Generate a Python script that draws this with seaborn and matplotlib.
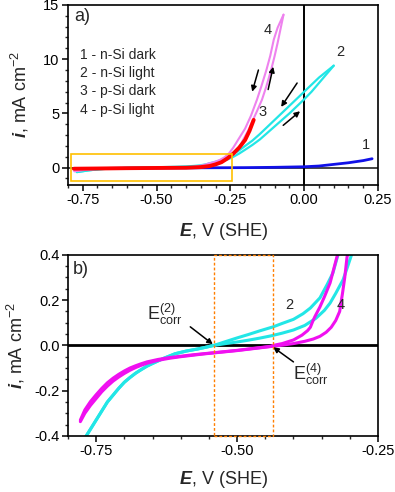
import matplotlib
matplotlib.use("Agg")
import matplotlib.pyplot as plt
import seaborn as sns
from matplotlib.patches import Rectangle
from matplotlib.ticker import MultipleLocator

# curve 1 - n-Si dark
E1 = [-0.78, -0.70, -0.60, -0.50, -0.40, -0.30, -0.20, -0.10, 0.00, 0.05, 0.10, 0.15, 0.20, 0.23]
i1 = [-0.12, -0.08, -0.05, -0.03, -0.02, -0.01, 0.0, 0.03, 0.08, 0.15, 0.30, 0.45, 0.65, 0.82]

# curve 2 - n-Si light: cathodic part (same for both scans), anodic forward / reverse
E2c = [-0.77, -0.76, -0.75, -0.74, -0.73, -0.72, -0.71, -0.70, -0.69, -0.68, -0.67, -0.66,
       -0.65, -0.63, -0.61, -0.59, -0.57, -0.555, -0.541]
i2c = [-0.41, -0.37, -0.33, -0.29, -0.25, -0.22, -0.19, -0.163, -0.142, -0.123, -0.107, -0.092,
       -0.08, -0.057, -0.037, -0.025, -0.016, -0.008, 0.0]
E2f = [-0.52, -0.50, -0.48, -0.46, -0.44, -0.42, -0.40, -0.38, -0.36, -0.345, -0.335, -0.325,
       -0.312, -0.305, -0.297, -0.28, -0.26, -0.24, -0.22, -0.20, -0.175, -0.15, -0.125, -0.10,
       -0.075, -0.05, -0.025, 0.0, 0.025, 0.05, 0.075, 0.10]
i2f = [0.008, 0.015, 0.023, 0.032, 0.042, 0.054, 0.068, 0.088, 0.12, 0.155, 0.187, 0.23, 0.29,
       0.34, 0.40, 0.55, 0.75, 1.0, 1.3, 1.65, 2.1, 2.6, 3.2, 3.8, 4.4, 5.0, 5.65, 6.3, 7.0,
       7.8, 8.6, 9.4]
E2r = [0.10, 0.075, 0.05, 0.025, 0.0, -0.025, -0.05, -0.075, -0.10, -0.125, -0.15, -0.175,
       -0.20, -0.225, -0.25, -0.27, -0.29, -0.31, -0.321, -0.33, -0.34, -0.353, -0.37, -0.383,
       -0.40, -0.42, -0.436, -0.46, -0.48, -0.50, -0.52, -0.541]
i2r = [9.4, 8.85, 8.3, 7.65, 7.0, 6.35, 5.7, 5.05, 4.4, 3.75, 3.1, 2.5, 2.0, 1.5, 1.1, 0.82,
       0.62, 0.47, 0.40, 0.32, 0.27, 0.21, 0.165, 0.14, 0.115, 0.097, 0.082, 0.064, 0.048,
       0.033, 0.017, 0.0]

# curve 3 - p-Si dark
E3 = [-0.78, -0.70, -0.60, -0.50, -0.40, -0.35, -0.32, -0.30, -0.28, -0.26, -0.24, -0.22,
      -0.20, -0.185, -0.171]
i3 = [-0.10, -0.08, -0.05, -0.03, -0.01, 0.05, 0.15, 0.30, 0.50, 0.85, 1.3, 1.85, 2.55, 3.4, 4.4]

# curve 4 - p-Si light: cathodic part (two close scans), anodic forward / reverse
E4c = [-0.778, -0.77, -0.76, -0.75, -0.74, -0.73, -0.72, -0.71, -0.70, -0.69, -0.68, -0.67,
       -0.66, -0.64, -0.62, -0.60, -0.58, -0.56, -0.54, -0.52, -0.50, -0.48, -0.46, -0.44]
i4c_f = [-0.337, -0.30, -0.265, -0.235, -0.205, -0.18, -0.158, -0.14, -0.124, -0.11, -0.098,
         -0.088, -0.079, -0.066, -0.057, -0.05, -0.044, -0.038, -0.033, -0.028, -0.023,
         -0.017, -0.011, -0.005]
i4c_r = [-0.33, -0.285, -0.248, -0.218, -0.19, -0.165, -0.145, -0.128, -0.113, -0.10, -0.09,
         -0.081, -0.073, -0.062, -0.054, -0.048, -0.042, -0.037, -0.032, -0.027, -0.022,
         -0.016, -0.01, -0.004]
E4f = [-0.43, -0.42, -0.40, -0.38, -0.365, -0.353, -0.342, -0.333, -0.325, -0.318, -0.313,
       -0.309, -0.305, -0.298, -0.29, -0.275, -0.26, -0.248, -0.235, -0.22, -0.206, -0.19,
       -0.175, -0.16, -0.143, -0.128, -0.112, -0.10, -0.09, -0.08, -0.07]
i4f = [-0.002, 0.001, 0.008, 0.018, 0.028, 0.04, 0.058, 0.08, 0.11, 0.15, 0.23, 0.30, 0.39,
       0.45, 0.52, 0.65, 0.82, 1.0, 1.3, 1.85, 2.6, 3.4, 4.3, 5.2, 6.26, 7.5, 9.0, 10.3, 11.5,
       12.8, 14.1]
E4r = [-0.07, -0.09, -0.103, -0.115, -0.128, -0.145, -0.16, -0.18, -0.20, -0.223, -0.24,
       -0.255, -0.27, -0.285, -0.30, -0.312, -0.323, -0.335, -0.345, -0.353, -0.362, -0.366,
       -0.37, -0.375, -0.385, -0.40, -0.42, -0.436]
i4r = [14.1, 12.9, 11.8, 10.3, 9.0, 7.5, 6.26, 4.8, 3.6, 2.6, 1.85, 1.3, 0.95, 0.72, 0.56,
       0.46, 0.39, 0.276, 0.215, 0.17, 0.127, 0.105, 0.08, 0.065, 0.045, 0.024, 0.008, 0.0]

legend_lines = ["1 - n-Si dark", "2 - n-Si light", "3 - p-Si dark", "4 - p-Si light"]
E_corr2 = -0.541
E_corr4 = -0.436

# full scans
E2_fwd, i2_fwd = E2c + E2f, i2c + i2f
E2_rev, i2_rev = E2r + E2c[::-1], i2r + i2c[::-1]
E4_fwd, i4_fwd = E4c + E4f, i4c_f + i4f
E4_rev, i4_rev = E4r + E4c[::-1], i4r + i4c_r[::-1]

sns.set_style("ticks")
plt.rcParams['font.family'] = ['Liberation Sans', 'DejaVu Sans']
plt.rcParams['mathtext.fontset'] = 'custom'
plt.rcParams['mathtext.rm'] = 'Liberation Sans'
plt.rcParams['mathtext.it'] = 'Liberation Sans:italic'
plt.rcParams['mathtext.bf'] = 'Liberation Sans:bold'
plt.rcParams['mathtext.bfit'] = 'Liberation Sans:bold:italic'

fig = plt.figure(figsize=(3.95, 4.92), dpi=100)
ax1 = fig.add_axes([0.172, 0.624, 0.785, 0.366])
ax2 = fig.add_axes([0.172, 0.114, 0.785, 0.368])

blue, cyan, red, violet, magenta = '#1010E8', '#22E6E6', '#FF0000', '#EE82EE', '#F010F0'


def curve(ax, x, y, color, lw):
    sns.lineplot(x=x, y=y, sort=False, estimator=None, color=color, lw=lw, ax=ax)


# ---- panel a
ax1.axhline(0, color='#444444', lw=1.4, zorder=1)
ax1.axvline(0, color='k', lw=1.4, zorder=1)
curve(ax1, E1, i1, blue, 2.0)
curve(ax1, E2_fwd, i2_fwd, cyan, 1.6)
curve(ax1, E2_rev, i2_rev, cyan, 1.6)
curve(ax1, E4_fwd, i4_fwd, violet, 1.5)
curve(ax1, E4_rev, i4_rev, violet, 1.5)
curve(ax1, E3, i3, red, 2.8)
ax1.add_patch(Rectangle((-0.79, -1.25), 0.547, 2.51, fill=False, ec='#FFC000', lw=1.2, zorder=5))

ax1.set_xlim(-0.8, 0.25)
ax1.set_ylim(-1.6, 15)
ax1.xaxis.set_minor_locator(MultipleLocator(0.05))
ax1.yaxis.set_major_locator(MultipleLocator(5))
ax1.yaxis.set_minor_locator(MultipleLocator(1))
ax1.set_xticks([-0.75, -0.5, -0.25, 0.0, 0.25])
ax1.set_xticklabels(['-0.75', '-0.50', '-0.25', '0.00', '0.25'])

ax1.text(0.02, 0.985, 'a)', transform=ax1.transAxes, fontsize=13, va='top', ha='left')
for k, t in enumerate(legend_lines):
    ax1.text(0.04, 0.722 - 0.101 * k, t, transform=ax1.transAxes, fontsize=10, va='center')
ax1.text(-0.125, 12.7, '4', fontsize=10.5, ha='center', va='center')
ax1.text(0.122, 10.7, '2', fontsize=10.5, ha='center', va='center')
ax1.text(-0.142, 5.1, '3', fontsize=10.5, ha='center', va='center')
ax1.text(0.209, 2.1, '1', fontsize=10.5, ha='center', va='center')

arr = dict(arrowstyle='-|>', color='k', lw=1.1, mutation_scale=8, shrinkA=0, shrinkB=0)
ax1.annotate('', xy=(-0.176, 7.0), xytext=(-0.155, 9.0), arrowprops=arr)
ax1.annotate('', xy=(-0.105, 9.3), xytext=(-0.122, 7.2), arrowprops=arr)
ax1.annotate('', xy=(-0.078, 5.6), xytext=(-0.024, 7.8), arrowprops=arr)
ax1.annotate('', xy=(-0.014, 5.2), xytext=(-0.071, 3.9), arrowprops=arr)

ax1.set_xlabel(r'$\mathbfit{E}$, V (SHE)', fontsize=13, labelpad=10)
ax1.set_ylabel(r'$\mathbfit{i}$, mA cm$^{-2}$', fontsize=13, labelpad=9)

# ---- panel b
ax2.axhline(0, color='k', lw=2.0, zorder=1)
curve(ax2, E2_fwd, i2_fwd, cyan, 2.2)
curve(ax2, E2_rev, i2_rev, cyan, 2.2)
curve(ax2, E4_fwd, i4_fwd, magenta, 2.2)
curve(ax2, E4_rev, i4_rev, magenta, 2.2)
ax2.add_patch(Rectangle((E_corr2, -0.4), E_corr4 - E_corr2, 0.8, fill=False, ec='#FF7F00',
                        lw=1.0, ls=(0, (2, 1.5)), zorder=5, clip_on=False))

ax2.set_xlim(-0.8, -0.25)
ax2.set_ylim(-0.4, 0.4)
ax2.xaxis.set_minor_locator(MultipleLocator(0.05))
ax2.yaxis.set_minor_locator(MultipleLocator(0.05))
ax2.set_xticks([-0.75, -0.5, -0.25])
ax2.set_xticklabels(['-0.75', '-0.50', '-0.25'])
ax2.set_yticks([-0.4, -0.2, 0.0, 0.2, 0.4])
ax2.set_yticklabels(['-0.4', '-0.2', '0.0', '0.2', '0.4'])

ax2.text(0.015, 0.92, 'b)', transform=ax2.transAxes, fontsize=13, va='center', ha='left')
ax2.text(-0.408, 0.179, '2', fontsize=10.5, ha='center', va='center')
ax2.text(-0.317, 0.179, '4', fontsize=10.5, ha='center', va='center')
ax2.text(-0.66, 0.14, r'E$_{\rm corr}^{(2)}$', fontsize=13, ha='left', va='center')
ax2.text(-0.40, -0.125, r'E$_{\rm corr}^{(4)}$', fontsize=13, ha='left', va='center')
ax2.annotate('', xy=(-0.543, 0.005), xytext=(-0.583, 0.082), arrowprops=arr)
ax2.annotate('', xy=(-0.436, -0.008), xytext=(-0.40, -0.073), arrowprops=arr)

ax2.set_xlabel(r'$\mathbfit{E}$, V (SHE)', fontsize=13, labelpad=8)
ax2.set_ylabel(r'$\mathbfit{i}$, mA cm$^{-2}$', fontsize=13, labelpad=5)

for ax in (ax1, ax2):
    for s in ax.spines.values():
        s.set_linewidth(1.2)
        s.set_color('k')
    ax.tick_params(which='major', direction='out', length=4, width=1.1, labelsize=10.5,
                   colors='k', pad=2)
    ax.tick_params(which='minor', direction='out', length=2.5, width=1.0)

fig.savefig('out.png', dpi=100)
